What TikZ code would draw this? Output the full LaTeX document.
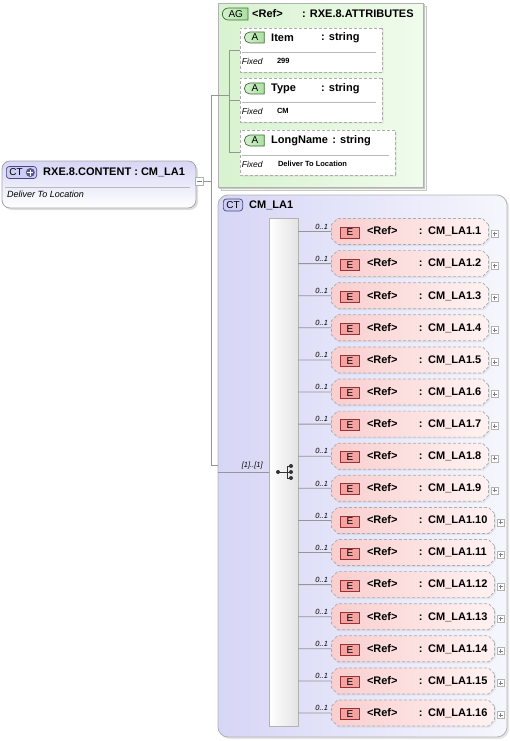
\documentclass[tikz,border=0pt]{standalone}
\usepackage{fontspec}
\setmainfont{Liberation Sans}
\usetikzlibrary{positioning, shapes.misc, shadows}

\definecolor{lavL}{RGB}{214,214,246}
\definecolor{lavR}{RGB}{246,246,253}
\definecolor{agL}{RGB}{216,243,208}
\definecolor{agR}{RGB}{240,251,236}
\definecolor{elemL}{RGB}{250,206,206}
\definecolor{elemR}{RGB}{255,242,242}
\definecolor{eFill}{RGB}{244,162,162}
\definecolor{eDraw}{RGB}{150,50,50}
\definecolor{aFill}{RGB}{170,224,160}
\definecolor{aDraw}{RGB}{60,110,50}
\definecolor{ctFill}{RGB}{206,206,244}
\definecolor{ctDraw}{RGB}{70,70,130}
\definecolor{dashGray}{RGB}{172,172,172}
\definecolor{lineGray}{RGB}{150,150,150}

\begin{document}
\begin{tikzpicture}[
    x=1pt, y=-1pt,
    every node/.style={font=\bfseries\fontsize{11}{13}\selectfont, inner sep=0pt},
    conn/.style={draw=lineGray, line width=0.8pt},
    sep/.style={draw=gray!55, line width=0.6pt},
    plus mark/.style={path picture={\draw[#1, line width=0.6pt]
        ([xshift=1.5pt]path picture bounding box.west) -- ([xshift=-1.5pt]path picture bounding box.east)
        ([yshift=-1.5pt]path picture bounding box.north) -- ([yshift=1.5pt]path picture bounding box.south);}},
    minus mark/.style={path picture={\draw[gray, line width=0.6pt]
        ([xshift=1.5pt]path picture bounding box.west) -- ([xshift=-1.5pt]path picture bounding box.east);}},
    badge/.style={font=\mdseries\fontsize{10}{12}\selectfont, minimum height=12pt, inner xsep=3pt, line width=0.7pt},
    ctbadge/.style={badge, rounded corners=3pt, fill=ctFill, draw=ctDraw},
    ctplus/.style={circle, fill=ctDraw!90, minimum size=9pt, plus mark=white},
    agbadge/.style={badge, rounded rectangle, rounded rectangle right arc=none, inner xsep=5pt,
        left color=aFill!50!white, right color=aFill, draw=aDraw},
    abadge/.style={agbadge, inner xsep=6pt, minimum height=11pt},
    ebadge/.style={badge, anchor=west, xshift=9pt, yshift=-1pt, minimum width=19pt, minimum height=11pt,
        fill=eFill, draw=eDraw},
    plusbox/.style={draw=gray!60, fill=white, minimum size=7pt, xshift=2pt, yshift=-2pt, plus mark=gray},
    togglebox/.style={draw=gray!60, fill=white, minimum size=8pt, minus mark},
    mult/.style={font=\mdseries\itshape\fontsize{7.5}{9}\selectfont, anchor=south east, xshift=-3pt, yshift=2pt},
    doc/.style={font=\mdseries\itshape\fontsize{9}{11}\selectfont},
    fixed/.style={font=\mdseries\itshape\fontsize{8.5}{10}\selectfont},
    fixedval/.style={font=\bfseries\fontsize{7.5}{9}\selectfont},
    rootbox/.style={rounded corners=8pt, draw=gray!70, line width=0.8pt, top color=lavL, bottom color=white,
        drop shadow={opacity=0.25, shadow xshift=2pt, shadow yshift=-2pt}},
    agbox/.style={chamfered rectangle, chamfered rectangle corners=south west, chamfered rectangle xsep=5pt,
        draw=gray!60, left color=agL, right color=agR,
        double copy shadow={shadow xshift=1.5pt, shadow yshift=-1.5pt, fill=agR, draw=gray!45}},
    ctbox/.style={rounded corners=10pt, draw=gray!60, line width=0.8pt, left color=lavL, right color=lavR,
        drop shadow={opacity=0.2, shadow xshift=2pt, shadow yshift=-2pt}},
    seqbar/.style={draw=gray!60, left color=white, right color=gray!22},
    dashedbox/.style={chamfered rectangle, chamfered rectangle xsep=2.5pt, draw=dashGray, line width=0.7pt,
        dash pattern=on 3pt off 2pt, drop shadow={opacity=0.12, shadow xshift=1.5pt, shadow yshift=-1.5pt}},
    attribute/.style={dashedbox, fill=white},
    element/.style={dashedbox, left color=elemL, right color=elemR, minimum height=26pt,
        text width=146pt, align=left, inner xsep=3pt, execute at begin node={\hspace*{30pt}},
        label={[ebadge]west:E}, label={[plusbox]east:{}}, label={[mult]west:0..1}},
    wide/.style={text width=152pt}
]
\useasboundingbox (0,0) rectangle (510,741);

% Root complex type
\node[rootbox, minimum width=194pt, minimum height=47pt] (root) at (99,184.5) {};
\node[ctbadge, anchor=west] (root_ct) at (6,172.5) {CT\kern11pt};
\node[ctplus, left=2pt of root_ct.east] (root_plus) {};
\node[right=6pt of root_ct] (root_title) {RXE.8.CONTENT : CM\_LA1};
\node[doc, anchor=west] (root_doc) at (7,194.5) {Deliver To Location};
\draw[sep] (5,187) -- (190,187);
\node[togglebox] (root_minus) at (199,181) {};

\coordinate (fork) at (211,181);
\coordinate (fork_top) at (211,95);
\coordinate (fork_bot) at (211,465);

% Attribute group
\node[agbox, minimum width=205pt, minimum height=184pt] (ag) at (320.5,95) {};
\node[agbadge, anchor=west] (ag_tag) at (222,14) {AG};
\node[anchor=west] (ag_ref) at (252,14) {<Ref>};
\node[anchor=west] (ag_type) at (302,14) {: RXE.8.ATTRIBUTES};

\node[attribute, minimum width=142pt, minimum height=44pt] (attr_item) at (311,50) {};
\node[abadge, anchor=west] (item_tag) at (244,37.5) {A};
\node[anchor=west] (item_name) at (271,37.5) {Item};
\node[anchor=west] (item_type) at (321,37.5) {: string};
\draw[sep] ([shift={(2,2)}]attr_item.west) -- ([shift={(-6,2)}]attr_item.east);
\node[fixed, anchor=west] (item_fixed) at ([shift={(2,11)}]attr_item.west) {Fixed};
\node[fixedval, right=14pt of item_fixed] (item_value) {299};

\node[attribute, minimum width=142pt, minimum height=44pt] (attr_type) at (311,100) {};
\node[abadge, anchor=west] (type_tag) at (244,88.5) {A};
\node[anchor=west] (type_name) at (271,88.5) {Type};
\node[anchor=west] (type_type) at (321,88.5) {: string};
\draw[sep] ([shift={(2,2)}]attr_type.west) -- ([shift={(-6,2)}]attr_type.east);
\node[fixed, anchor=west] (type_fixed) at ([shift={(2,11)}]attr_type.west) {Fixed};
\node[fixedval, right=14pt of type_fixed] (type_value) {CM};

\node[attribute, minimum width=155pt, minimum height=45pt] (attr_long) at (317.5,152.5) {};
\node[abadge, anchor=west] (long_tag) at (244,140.5) {A};
\node[anchor=west] (long_name) at (271,140.5) {LongName};
\node[right=4pt of long_name] (long_type) {: string};
\draw[sep] ([shift={(2,3)}]attr_long.west) -- ([shift={(-6,3)}]attr_long.east);
\node[fixed, anchor=west] (long_fixed) at ([shift={(2,11.5)}]attr_long.west) {Fixed};
\node[fixedval, right=15pt of long_fixed] (long_value) {Deliver To Location};

\coordinate (ag_in) at (229,95);

% Complex type CM_LA1
\node[ctbox, minimum width=289pt, minimum height=542pt] (cm) at (362.5,466) {};
\node[ctbadge, anchor=west] (cm_ct) at (223,205) {CT};
\node[right=6pt of cm_ct] (cm_title) {CM\_LA1};

\node[seqbar, minimum width=29pt, minimum height=508pt] (seq) at (283.5,472) {};
\node[mult, above left=1pt and 3pt of seq.west, xshift=0pt, yshift=0pt] (seq_mult) {[1]..[1]};
\coordinate (seq_icon) at (284,472);
\begin{scope}[shift={(seq_icon)}, line width=0.9pt, black!80]
  \fill (-6,0) circle (2pt) (7,-6) circle (2pt) (7,0) circle (2pt) (7,6) circle (2pt);
  \draw (-6,0) -- (7,0) (3,-6) -- (3,6) (3,-6) -- (7,-6) (3,6) -- (7,6);
\end{scope}

% elements
\node[element] (e1) at (410,231.5) {\makebox[52pt][l]{<Ref>}: CM\_LA1.1};
\node[element, below=5.4pt of e1] (e2) {\makebox[52pt][l]{<Ref>}: CM\_LA1.2};
\node[element, below=5.4pt of e2] (e3) {\makebox[52pt][l]{<Ref>}: CM\_LA1.3};
\node[element, below=5.4pt of e3] (e4) {\makebox[52pt][l]{<Ref>}: CM\_LA1.4};
\node[element, below=5.4pt of e4] (e5) {\makebox[52pt][l]{<Ref>}: CM\_LA1.5};
\node[element, below=5.4pt of e5] (e6) {\makebox[52pt][l]{<Ref>}: CM\_LA1.6};
\node[element, below=5.4pt of e6] (e7) {\makebox[52pt][l]{<Ref>}: CM\_LA1.7};
\node[element, below=5.4pt of e7] (e8) {\makebox[52pt][l]{<Ref>}: CM\_LA1.8};
\node[element, below=5.4pt of e8] (e9) {\makebox[52pt][l]{<Ref>}: CM\_LA1.9};
\node[element, wide, below=5.4pt of e9, xshift=3pt] (e10) {\makebox[52pt][l]{<Ref>}: CM\_LA1.10};
\node[element, wide, below=5.4pt of e10] (e11) {\makebox[52pt][l]{<Ref>}: CM\_LA1.11};
\node[element, wide, below=5.4pt of e11] (e12) {\makebox[52pt][l]{<Ref>}: CM\_LA1.12};
\node[element, wide, below=5.4pt of e12] (e13) {\makebox[52pt][l]{<Ref>}: CM\_LA1.13};
\node[element, wide, below=5.4pt of e13] (e14) {\makebox[52pt][l]{<Ref>}: CM\_LA1.14};
\node[element, wide, below=5.4pt of e14] (e15) {\makebox[52pt][l]{<Ref>}: CM\_LA1.15};
\node[element, wide, below=5.4pt of e15] (e16) {\makebox[52pt][l]{<Ref>}: CM\_LA1.16};

% root edges
\draw[conn] (root_minus) -- (fork);
\draw[conn] (fork_top) -- (fork_bot);
\draw[conn] (fork_top) -- (ag_in);
\draw[conn] (fork_bot) -- (fork_bot -| cm.west);

% attribute edges
\draw[conn] (attr_item.west -| ag_in) -- (attr_long.west -| ag_in);
\draw[conn] (attr_item.west -| ag_in) -- (attr_item);
\draw[conn] (attr_type.west -| ag_in) -- (attr_type);
\draw[conn] (attr_long.west -| ag_in) -- (attr_long);

% sequence edges
\draw[conn] (cm.west |- seq) -- (seq);
\draw[conn] (seq.east |- e1) -- (e1) (seq.east |- e2) -- (e2) (seq.east |- e3) -- (e3)
  (seq.east |- e4) -- (e4) (seq.east |- e5) -- (e5) (seq.east |- e6) -- (e6)
  (seq.east |- e7) -- (e7) (seq.east |- e8) -- (e8) (seq.east |- e9) -- (e9)
  (seq.east |- e10) -- (e10) (seq.east |- e11) -- (e11) (seq.east |- e12) -- (e12)
  (seq.east |- e13) -- (e13) (seq.east |- e14) -- (e14) (seq.east |- e15) -- (e15)
  (seq.east |- e16) -- (e16);

\end{tikzpicture}
\end{document}
